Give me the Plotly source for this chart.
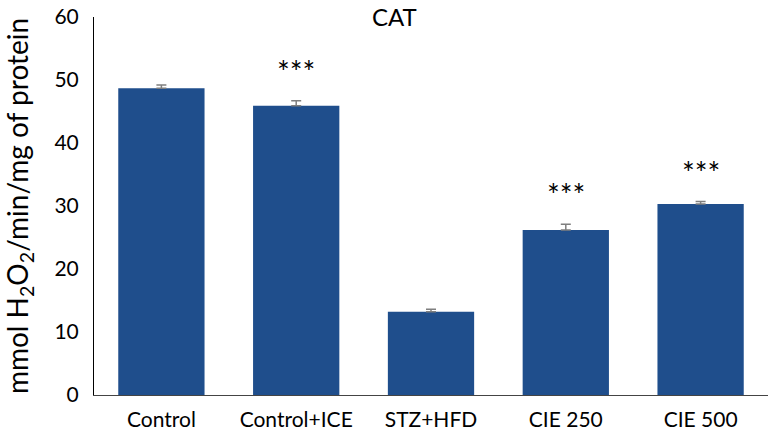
import plotly.graph_objects as go

categories = ["Control", "Control+ICE", "STZ+HFD", "CIE 250", "CIE 500"]
values = [48.7, 45.9, 13.2, 26.2, 30.3]
errors = [0.5, 0.8, 0.4, 0.9, 0.4]
sig_labels = ["", "***", "", "***", "***"]
chart_title = "CAT"

fig = go.Figure()
fig.add_trace(go.Bar(
    x=categories, y=values,
    marker=dict(color="#1F4E8C", line=dict(width=0)),
    error_y=dict(type="data", array=errors, arrayminus=[0]*len(errors), symmetric=False,
                 color="#7f7f7f", thickness=1.5, width=5),
    width=0.64,
))

for c, v, e, s in zip(categories, values, errors, sig_labels):
    if s:
        fig.add_annotation(x=c, y=v + e, text=s, showarrow=False,
                           yanchor="bottom", yshift=10,
                           font=dict(size=30, color="black", family="Lato"),
                           xref="x", yref="y")

fig.add_annotation(text=chart_title, x=0.446, xref="paper", xanchor="center",
                   y=1, yref="paper", yanchor="top", yshift=17, showarrow=False,
                   font=dict(size=24, family="Lato", color="black"))

fig.update_layout(
    width=768, height=437,
    margin=dict(l=94, r=0, t=17, b=42),
    plot_bgcolor="white", paper_bgcolor="white",
    showlegend=False,
    font=dict(family="Lato", color="black"),
)
fig.update_yaxes(range=[0, 60], tickvals=[0, 10, 20, 30, 40, 50, 60],
                 showgrid=False, zeroline=False, showline=True, linecolor="black", linewidth=1,
                 ticks="", ticklen=0, tickfont=dict(size=21, family="Lato"), automargin=False,
                 ticklabelstandoff=10,
                 title=dict(text="mmol H<sub>2</sub>O<sub>2</sub>/min/mg of protein",
                            font=dict(size=28, family="Lato"), standoff=20))
fig.update_xaxes(showgrid=False, showline=True, linecolor="#444444", linewidth=1, automargin=False,
                 ticks="", tickfont=dict(size=21, family="Lato"), ticklabelstandoff=6)

fig.write_html("out.html", config={"displayModeBar": False},
               post_script="document.body.style.margin='0';")
